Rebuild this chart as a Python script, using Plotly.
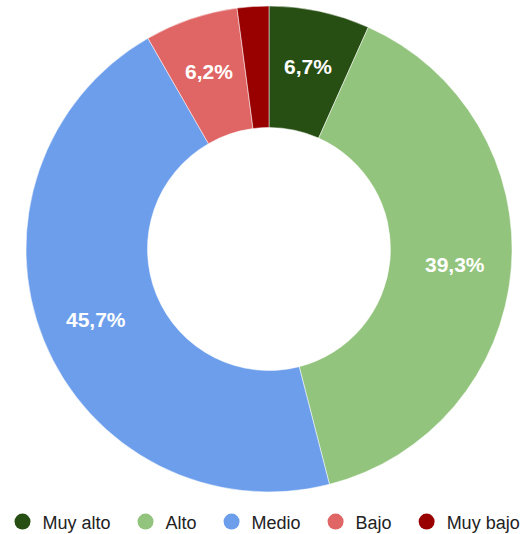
import math
import plotly.graph_objects as go

# Distribution by level
categories = ["Muy alto", "Alto", "Medio", "Bajo", "Muy bajo"]
shares = [6.7, 39.3, 45.7, 6.2, 2.1]
colors = ["#274e13", "#93c47d", "#6d9eeb", "#e06666", "#990000"]

# Percent labels with comma decimals; very small slices stay unlabeled
slice_text = [f"{v:.1f}%".replace(".", ",") if v >= 5 else "" for v in shares]

W, H = 528, 534
dom_x = [26 / W, 512 / W]
dom_y = [1 - 492 / H, 1 - 6 / H]
HOLE = 0.5

fig = go.Figure()
fig.add_trace(go.Pie(
    labels=categories,
    values=shares,
    textinfo="none",
    marker=dict(colors=colors, line=dict(color="white", width=0.5)),
    hole=HOLE,
    sort=False,
    direction="clockwise",
    rotation=0,
    showlegend=False,
    domain=dict(x=dom_x, y=dom_y),
))

# Slice labels placed along each slice's mid-angle, inside the ring
cx = (dom_x[0] + dom_x[1]) / 2
cy = (dom_y[0] + dom_y[1]) / 2
r_px = min((dom_x[1] - dom_x[0]) * W, (dom_y[1] - dom_y[0]) * H) / 2
label_r = r_px * 0.77
total = sum(shares)
cum = 0.0
for v, t in zip(shares, slice_text):
    mid = (cum + v / 2) / total * 2 * math.pi
    cum += v
    if not t:
        continue
    fig.add_annotation(
        x=cx + label_r * math.sin(mid) / W,
        y=cy + label_r * math.cos(mid) / H,
        xref="paper", yref="paper", text=t, showarrow=False,
        xanchor="center", yanchor="middle",
        font=dict(family="Arial, Liberation Sans", size=21, color="white", weight="bold"),
    )

# Circular legend entries (non-breaking spaces widen the gap between entries)
for i, (name, col) in enumerate(zip(categories, colors)):
    pad = "" if i == len(categories) - 1 else "\u00a0\u00a0"
    fig.add_trace(go.Scatter(
        x=[None], y=[None], mode="markers", name=name + pad,
        marker=dict(symbol="circle", size=16, color=col),
        showlegend=True,
    ))

fig.update_layout(
    width=W, height=H,
    margin=dict(l=0, r=0, t=0, b=0, autoexpand=False),
    paper_bgcolor="white",
    plot_bgcolor="white",
    xaxis=dict(visible=False),
    yaxis=dict(visible=False),
    legend=dict(
        orientation="h", x=0.5, xanchor="center",
        y=-0.012, yanchor="bottom",
        font=dict(family="Arial, Liberation Sans", size=18, color="#222222"),
        itemwidth=30,
    ),
)

fig.write_html("out.html")
